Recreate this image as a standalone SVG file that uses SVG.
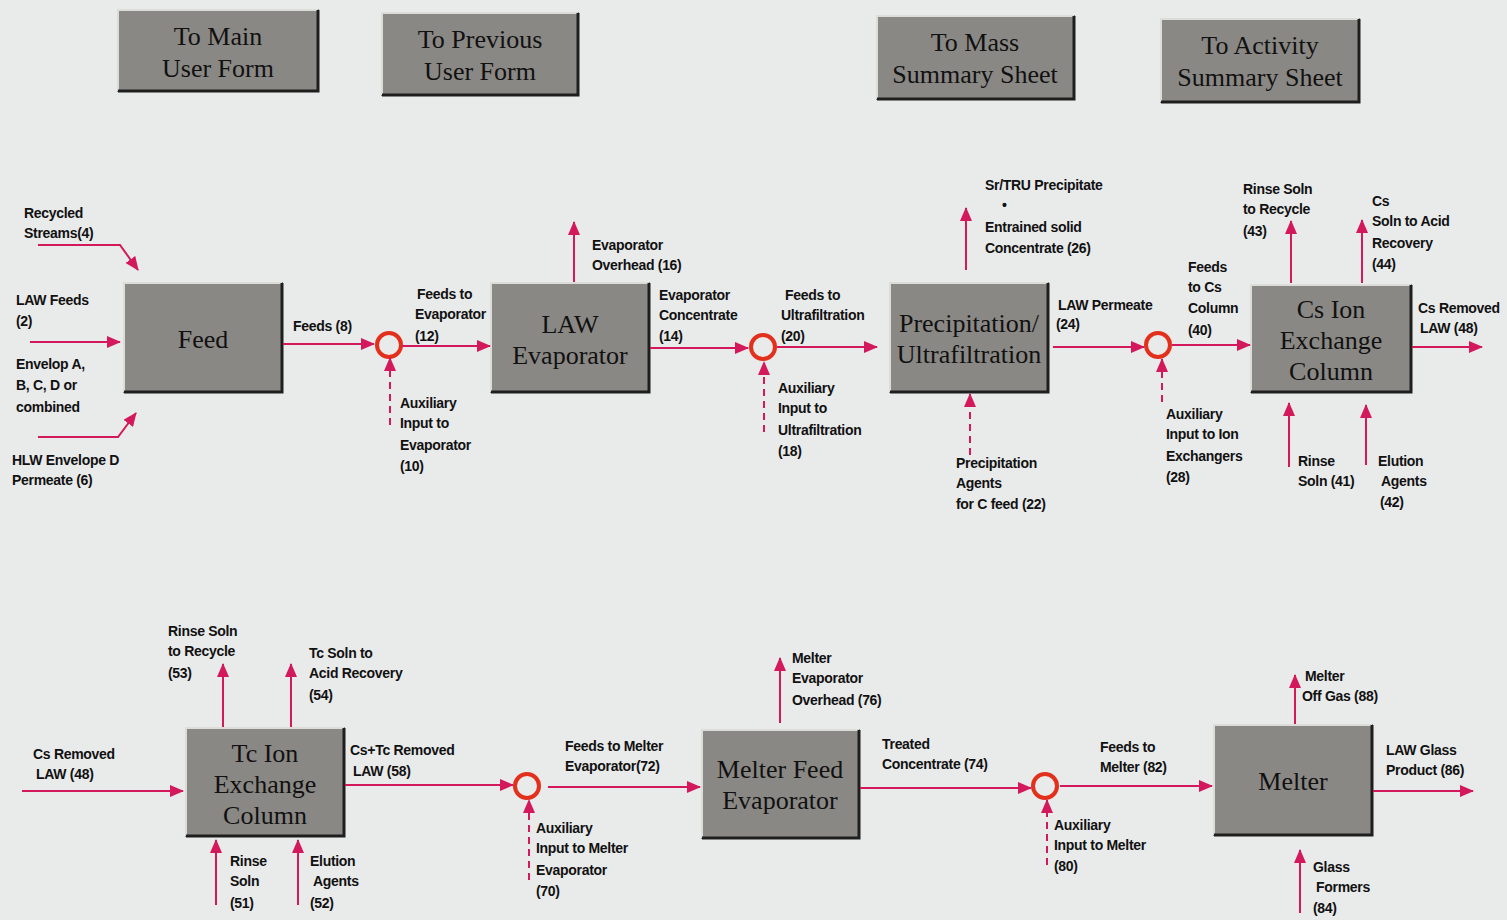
<svg xmlns="http://www.w3.org/2000/svg" width="1507" height="920" viewBox="0 0 1507 920">
<defs>
<marker id="ah" viewBox="0 0 14 12" refX="13" refY="6" markerWidth="14" markerHeight="12" markerUnits="userSpaceOnUse" orient="auto"><path d="M0,0 L14,6 L0,12 z" fill="#d3185c"/></marker>
<style>
.bg{fill:#e9eaea}
.box{fill:#8a8884}
.hl{fill:none;stroke:#dcdcd8;stroke-width:2}
.sh{fill:none;stroke:#1e1e1e;stroke-width:3}
.nt{font-family:"Liberation Serif",serif;font-size:26px;fill:#111;text-anchor:middle}
.lb{font-family:"Liberation Sans",Arial,sans-serif;font-size:14px;font-weight:bold;letter-spacing:-0.3px;fill:#111}
.c{fill:none;stroke:#d3185c;stroke-width:2;marker-end:url(#ah)}
.d{fill:none;stroke:#d3185c;stroke-width:2;stroke-dasharray:7,5;marker-end:url(#ah)}
.j{fill:none;stroke:#e3301c;stroke-width:4}
</style>
</defs>
<rect class="bg" x="0" y="0" width="1507" height="920"/>

<g id="btn-main"><rect class="box" x="117" y="9" width="202" height="83"/><polyline class="hl" points="118,91 118,10 318,10"/><polyline class="sh" points="118,91 318,91 318,10"/><text class="nt" x="218" y="45">To Main</text><text class="nt" x="218" y="77">User Form</text></g>
<g id="btn-prev"><rect class="box" x="381" y="12" width="198" height="84"/><polyline class="hl" points="382,95 382,13 578,13"/><polyline class="sh" points="382,95 578,95 578,13"/><text class="nt" x="480" y="48">To Previous</text><text class="nt" x="480" y="80">User Form</text></g>
<g id="btn-mass"><rect class="box" x="876" y="15" width="199" height="85"/><polyline class="hl" points="877,99 877,16 1074,16"/><polyline class="sh" points="877,99 1074,99 1074,16"/><text class="nt" x="975" y="51">To Mass</text><text class="nt" x="975" y="83">Summary Sheet</text></g>
<g id="btn-activity"><rect class="box" x="1160" y="18" width="200" height="85"/><polyline class="hl" points="1161,102 1161,19 1359,19"/><polyline class="sh" points="1161,102 1359,102 1359,19"/><text class="nt" x="1260" y="54">To Activity</text><text class="nt" x="1260" y="86">Summary Sheet</text></g>

<g id="feed"><rect class="box" x="123" y="282" width="160" height="111"/><polyline class="hl" points="124,392 124,283 282,283"/><polyline class="sh" points="124,392 282,392 282,283"/><text class="nt" x="203" y="348">Feed</text></g>
<g id="law-evaporator"><rect class="box" x="490" y="282" width="160" height="111"/><polyline class="hl" points="491,392 491,283 649,283"/><polyline class="sh" points="491,392 649,392 649,283"/><text class="nt" x="570" y="333">LAW</text><text class="nt" x="570" y="364">Evaporator</text></g>
<g id="precipitation"><rect class="box" x="889" y="282" width="160" height="111"/><polyline class="hl" points="890,392 890,283 1048,283"/><polyline class="sh" points="890,392 1048,392 1048,283"/><text class="nt" x="969" y="332">Precipitation/</text><text class="nt" x="969" y="363">Ultrafiltration</text></g>
<g id="cs-ion"><rect class="box" x="1250" y="284" width="162" height="109"/><polyline class="hl" points="1251,392 1251,285 1411,285"/><polyline class="sh" points="1251,392 1411,392 1411,285"/><text class="nt" x="1331" y="318">Cs Ion</text><text class="nt" x="1331" y="349">Exchange</text><text class="nt" x="1331" y="380">Column</text></g>
<g id="tc-ion"><rect class="box" x="185" y="727" width="160" height="110"/><polyline class="hl" points="186,836 186,728 344,728"/><polyline class="sh" points="186,836 344,836 344,728"/><text class="nt" x="265" y="762">Tc Ion</text><text class="nt" x="265" y="793">Exchange</text><text class="nt" x="265" y="824">Column</text></g>
<g id="melter-feed-evaporator"><rect class="box" x="701" y="729" width="159" height="110"/><polyline class="hl" points="702,838 702,730 859,730"/><polyline class="sh" points="702,838 859,838 859,730"/><text class="nt" x="780" y="778">Melter Feed</text><text class="nt" x="780" y="809">Evaporator</text></g>
<g id="melter"><rect class="box" x="1213" y="724" width="160" height="112"/><polyline class="hl" points="1214,835 1214,725 1372,725"/><polyline class="sh" points="1214,835 1372,835 1372,725"/><text class="nt" x="1293" y="790">Melter</text></g>

<g id="junctions">
<circle class="j" cx="389" cy="345" r="12"/>
<circle class="j" cx="763" cy="347" r="12"/>
<circle class="j" cx="1158" cy="345" r="12"/>
<circle class="j" cx="527" cy="786" r="12"/>
<circle class="j" cx="1045" cy="786" r="12"/>
</g>

<g id="connectors">
<polyline class="c" points="38,245 120,245 138,270"/>
<polyline class="c" points="30,342 120,342"/>
<polyline class="c" points="38,437 118,437 136,413"/>
<polyline class="c" points="283,344 374,344"/>
<polyline class="c" points="402,346 490,346"/>
<polyline class="d" points="390,425 390,358"/>
<polyline class="c" points="574,282 574,222"/>
<polyline class="c" points="650,348 748,348"/>
<polyline class="c" points="777,347 877,347"/>
<polyline class="d" points="764,432 764,362"/>
<polyline class="c" points="966,270 966,208"/>
<polyline class="d" points="970,455 970,394"/>
<polyline class="c" points="1053,347 1144,347"/>
<polyline class="c" points="1172,345 1250,345"/>
<polyline class="d" points="1162,402 1162,359"/>
<polyline class="c" points="1291,283 1291,221"/>
<polyline class="c" points="1362,283 1362,220"/>
<polyline class="c" points="1412,347 1482,347"/>
<polyline class="c" points="1289,467 1289,403"/>
<polyline class="c" points="1366,465 1366,405"/>

<polyline class="c" points="22,791 183,791"/>
<polyline class="c" points="223,727 223,664"/>
<polyline class="c" points="291,727 291,664"/>
<polyline class="c" points="216,905 216,840"/>
<polyline class="c" points="298,905 298,840"/>
<polyline class="c" points="345,785 513,785"/>
<polyline class="c" points="548,787 700,787"/>
<polyline class="d" points="529,880 529,800"/>
<polyline class="c" points="780,723 780,658"/>
<polyline class="c" points="860,788 1031,788"/>
<polyline class="c" points="1060,786 1212,786"/>
<polyline class="d" points="1047,865 1047,800"/>
<polyline class="c" points="1295,724 1295,675"/>
<polyline class="c" points="1300,913 1300,850"/>
<polyline class="c" points="1373,791 1473,791"/>
</g>

<g id="labels" class="lb">
<text x="24" y="218">Recycled</text><text x="24" y="238">Streams(4)</text>
<text x="16" y="305">LAW Feeds</text><text x="16" y="326">(2)</text>
<text x="16" y="369">Envelop A,</text><text x="16" y="390">B, C, D or</text><text x="16" y="412">combined</text>
<text x="12" y="465">HLW Envelope D</text><text x="12" y="485">Permeate (6)</text>
<text x="293" y="331">Feeds (8)</text>
<text x="417" y="299">Feeds to</text><text x="415" y="319">Evaporator</text><text x="415" y="341">(12)</text>
<text x="400" y="408">Auxiliary</text><text x="400" y="428">Input to</text><text x="400" y="450">Evaporator</text><text x="400" y="471">(10)</text>
<text x="592" y="250">Evaporator</text><text x="592" y="270">Overhead (16)</text>
<text x="659" y="300">Evaporator</text><text x="659" y="320">Concentrate</text><text x="659" y="341">(14)</text>
<text x="785" y="300">Feeds to</text><text x="781" y="320">Ultrafiltration</text><text x="781" y="341">(20)</text>
<text x="778" y="393">Auxiliary</text><text x="778" y="413">Input to</text><text x="778" y="435">Ultrafiltration</text><text x="778" y="456">(18)</text>
<text x="985" y="190">Sr/TRU Precipitate</text><text x="1002" y="210">•</text><text x="985" y="232">Entrained solid</text><text x="985" y="253">Concentrate (26)</text>
<text x="1058" y="310">LAW Permeate</text><text x="1056" y="329">(24)</text>
<text x="1188" y="272">Feeds</text><text x="1188" y="292">to Cs</text><text x="1188" y="313">Column</text><text x="1188" y="335">(40)</text>
<text x="1166" y="419">Auxiliary</text><text x="1166" y="439">Input to Ion</text><text x="1166" y="461">Exchangers</text><text x="1166" y="482">(28)</text>
<text x="956" y="468">Precipitation</text><text x="956" y="488">Agents</text><text x="956" y="509">for C feed  (22)</text>
<text x="1243" y="194">Rinse Soln</text><text x="1243" y="214">to Recycle</text><text x="1243" y="236">(43)</text>
<text x="1372" y="206">Cs</text><text x="1372" y="226">Soln to Acid</text><text x="1372" y="248">Recovery</text><text x="1372" y="269">(44)</text>
<text x="1418" y="313">Cs Removed</text><text x="1420" y="333">LAW (48)</text>
<text x="1298" y="466">Rinse</text><text x="1298" y="486">Soln (41)</text>
<text x="1378" y="466">Elution</text><text x="1381" y="486">Agents</text><text x="1380" y="507">(42)</text>

<text x="168" y="636">Rinse Soln</text><text x="168" y="656">to Recycle</text><text x="168" y="678">(53)</text>
<text x="309" y="658">Tc Soln to</text><text x="309" y="678">Acid Recovery</text><text x="309" y="700">(54)</text>
<text x="33" y="759">Cs Removed</text><text x="36" y="779">LAW (48)</text>
<text x="350" y="755">Cs+Tc Removed</text><text x="353" y="776">LAW (58)</text>
<text x="230" y="866">Rinse</text><text x="230" y="886">Soln</text><text x="230" y="908">(51)</text>
<text x="310" y="866">Elution</text><text x="313" y="886">Agents</text><text x="310" y="908">(52)</text>
<text x="565" y="751">Feeds to Melter</text><text x="565" y="771">Evaporator(72)</text>
<text x="536" y="833">Auxiliary</text><text x="536" y="853">Input to Melter</text><text x="536" y="875">Evaporator</text><text x="536" y="896">(70)</text>
<text x="792" y="663">Melter</text><text x="792" y="683">Evaporator</text><text x="792" y="705">Overhead (76)</text>
<text x="882" y="749">Treated</text><text x="882" y="769">Concentrate (74)</text>
<text x="1100" y="752">Feeds to</text><text x="1100" y="772">Melter (82)</text>
<text x="1054" y="830">Auxiliary</text><text x="1054" y="850">Input to Melter</text><text x="1054" y="871">(80)</text>
<text x="1305" y="681">Melter</text><text x="1302" y="701">Off Gas (88)</text>
<text x="1386" y="755">LAW Glass</text><text x="1386" y="775">Product (86)</text>
<text x="1313" y="872">Glass</text><text x="1316" y="892">Formers</text><text x="1313" y="913">(84)</text>
</g>
</svg>
